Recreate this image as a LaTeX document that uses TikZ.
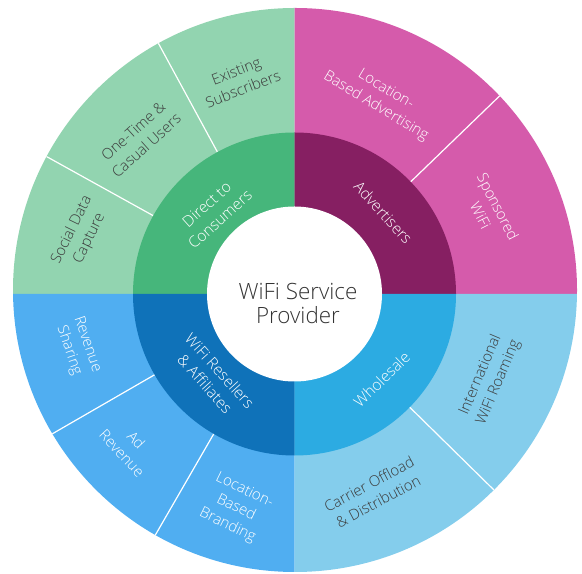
\documentclass[tikz,border=0pt]{standalone}
\usepackage{fontspec}
\setmainfont{Open Sans}[UprightFont=* Light]
\definecolor{outGreen}{HTML}{92D4B0}
\definecolor{midGreen}{HTML}{46B67B}
\definecolor{outPink}{HTML}{D55BAB}
\definecolor{midPurple}{HTML}{861F62}
\definecolor{outBlue}{HTML}{50AEF1}
\definecolor{midBlue}{HTML}{0F72B9}
\definecolor{outSky}{HTML}{84CDEC}
\definecolor{midSky}{HTML}{2CABE2}
\definecolor{darkText}{HTML}{3C3C3C}
\definecolor{hubText}{HTML}{333333}
\tikzset{
  divider/.style={draw=white, line width=1.2bp},
  outlabel/.style={font=\fontsize{15}{19.5}\selectfont, align=center, inner sep=0pt},
  darklabel/.style={outlabel, text=darkText},
  lightlabel/.style={outlabel, text=white},
  midlabel/.style={font=\fontsize{15.5}{20}\selectfont, align=center, inner sep=0pt, text=white},
}
\begin{document}
\begin{tikzpicture}[x=1bp,y=1bp]
\useasboundingbox (0,0) rectangle (582,574);
\coordinate (C) at (294.5,280);

% outer ring: four quadrants with their sub-segment dividers
\begin{scope}
  \clip (295,284) ellipse [x radius=282, y radius=282];
  \fill[outGreen]  (C) -- ++(90:330)  arc[start angle=90,  end angle=180, radius=330] -- cycle;
  \fill[outPink]   (C) -- ++(0:330)   arc[start angle=0,   end angle=90,  radius=330] -- cycle;
  \fill[outBlue]   (C) -- ++(180:330) arc[start angle=180, end angle=270, radius=330] -- cycle;
  \fill[outSky]    (C) -- ++(270:330) arc[start angle=270, end angle=360, radius=330] -- cycle;
  \foreach \a in {44,118.5,151,210,240,315.5}
    \draw[divider] ([shift={(\a:150)}]C) -- ([shift={(\a:330)}]C);
\end{scope}

% middle ring
\fill[midGreen]  (C) -- ++(90:161.5)  arc[start angle=90,  end angle=180, radius=161.5] -- cycle;
\fill[midPurple] (C) -- ++(0:161.5)   arc[start angle=0,   end angle=90,  radius=161.5] -- cycle;
\fill[midBlue]   (C) -- ++(180:161.5) arc[start angle=180, end angle=270, radius=161.5] -- cycle;
\fill[midSky]    (C) -- ++(270:161.5) arc[start angle=270, end angle=360, radius=161.5] -- cycle;

% hub
\node[circle, fill=white, inner sep=0pt, minimum size=175bp] (hub) at (C) {};
\node[font=\fontsize{22.5}{23.5}\selectfont, align=center, inner sep=0pt, text=hubText]
  (hublabel) at (298,270.5) {WiFi Service\\Provider};

% middle ring labels
\node[midlabel, rotate=42]    (direct)  at ([shift={(134.6:115.6)}]C) {Direct to\\Consumers};
\node[midlabel, rotate=-47.5] (advert)  at ([shift={(42.5:120.4)}]C)  {Advertisers};
\node[midlabel, rotate=44]    (whole)   at ([shift={(-44.4:122)}]C)   {Wholesale};
\node[midlabel, rotate=-48]   (resell)  at ([shift={(225.5:117)}]C)   {WiFi Resellers\\\& Affiliates};

% outer ring labels
\node[darklabel, rotate=21]   (existing) at ([shift={(104.4:221)}]C) {Existing\\Subscribers};
\node[darklabel, rotate=42]   (onetime)  at ([shift={(134.8:219.6)}]C) {One-Time \&\\Casual Users};
\node[darklabel, rotate=64]   (social)   at ([shift={(164.4:222)}]C) {Social Data\\Capture};
\node[lightlabel, rotate=-31] (lbadv)    at ([shift={(66.2:214)}]C) {Location-\\Based Advertising};
\node[lightlabel, rotate=-63] (sponsor)  at ([shift={(23:211.8)}]C) {Sponsored\\WiFi};
\node[darklabel, rotate=67]   (intl)     at ([shift={(-23.5:212.6)}]C) {International\\WiFi Roaming};
\node[darklabel, rotate=28]   (carrier)  at ([shift={(-68.3:213.9)}]C) {Carrier Offload\\\& Distribution};
\node[lightlabel, rotate=-71] (revshare) at ([shift={(193.9:223)}]C) {Revenue\\Sharing};
\node[lightlabel, rotate=-47] (adrev)    at ([shift={(222.7:225)}]C) {Ad\\Revenue};
\node[lightlabel, rotate=-26] (lbbrand)  at ([shift={(254.7:222)}]C) {Location-\\Based\\Branding};
\end{tikzpicture}
\end{document}
